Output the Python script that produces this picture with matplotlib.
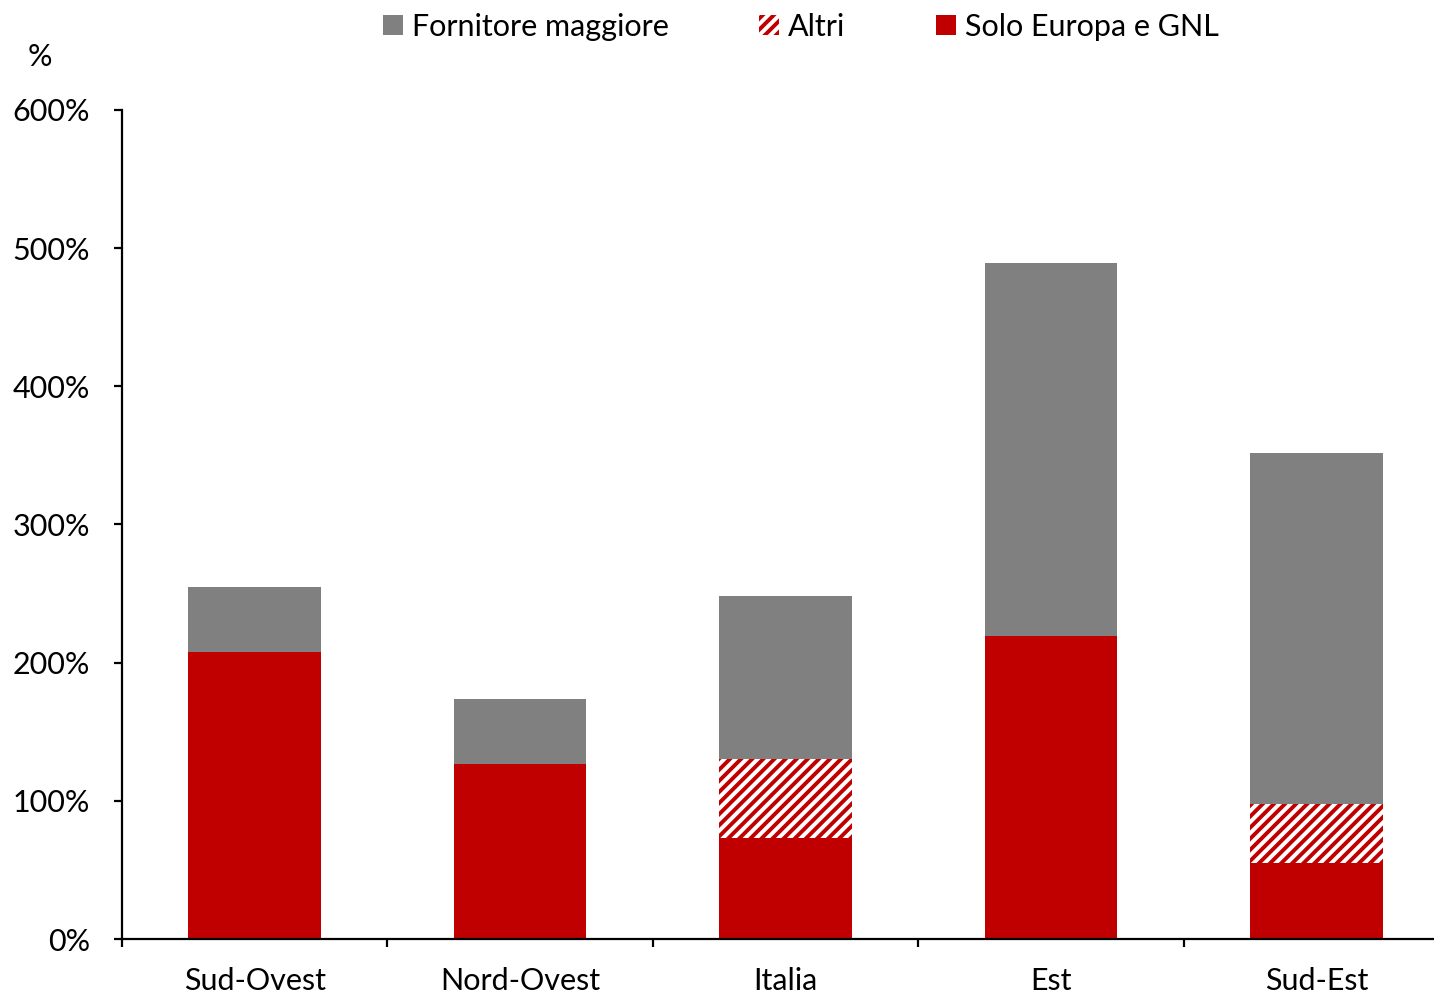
import numpy as np
import matplotlib
matplotlib.use("Agg")
import matplotlib.pyplot as plt
from matplotlib.ticker import FuncFormatter

plt.rcParams['font.family'] = ['Lato', 'DejaVu Sans']
plt.rcParams['hatch.linewidth'] = 1.4
plt.rcParams['hatch.color'] = '#C00000'

# data (percent)
regions = ['Sud-Ovest', 'Nord-Ovest', 'Italia', 'Est', 'Sud-Est']
solo_europa = [208, 127, 73, 219, 55]
altri = [0, 0, 57, 0, 43]
fornitore = [47, 47, 118, 270, 254]

red = '#C00000'
grey = '#808080'

fig = plt.figure(figsize=(7.17, 4.985), dpi=200)
W, H = 1434, 997
ax = fig.add_axes([122 / W, (H - 939) / H, (1449 - 122) / W, 829 / H])

x = np.arange(len(regions))
width = 0.5
bottom2 = np.array(solo_europa) + np.array(altri)

ax.bar(x, fornitore, width, bottom=bottom2, color=grey, linewidth=0, label='Fornitore maggiore')
ax.bar(x, altri, width, bottom=solo_europa, facecolor='white', edgecolor=red,
       hatch='//////', linewidth=0, label='Altri')
ax.bar(x, solo_europa, width, color=red, linewidth=0, label='Solo Europa e GNL')

ax.set_xlim(-0.5, 4.5)
ax.set_ylim(0, 600)
ax.set_yticks(np.arange(0, 601, 100))
ax.yaxis.set_major_formatter(FuncFormatter(lambda v, p: f'{v:.0f}%'))

ax.set_xticks(np.arange(-0.5, 5, 1))
ax.set_xticklabels([])
ax.set_xticks(x, minor=True)
ax.set_xticklabels(regions, minor=True)
ax.tick_params(axis='x', which='major', direction='out', length=3, width=0.8)
ax.tick_params(axis='x', which='minor', length=0, pad=10, labelsize=11)
ax.tick_params(axis='y', direction='out', length=3, width=0.8, pad=8.5, labelsize=11)

for s in ['top', 'right']:
    ax.spines[s].set_visible(False)
for s in ['left', 'bottom']:
    ax.spines[s].set_linewidth(0.8)
ax.spines['bottom'].set_clip_on(False)

fig.text(40 / W, 1 - 57 / H, '%', fontsize=11, ha='center', va='center')

handles, labels = ax.get_legend_handles_labels()
fig.legend(handles, labels, loc='center', bbox_to_anchor=(801 / W, 1 - 27 / H),
           ncol=3, frameon=False, fontsize=11, handlelength=0.65, handleheight=0.65,
           handletextpad=0.3, columnspacing=2.95)

fig.savefig('out.png', dpi=200)
